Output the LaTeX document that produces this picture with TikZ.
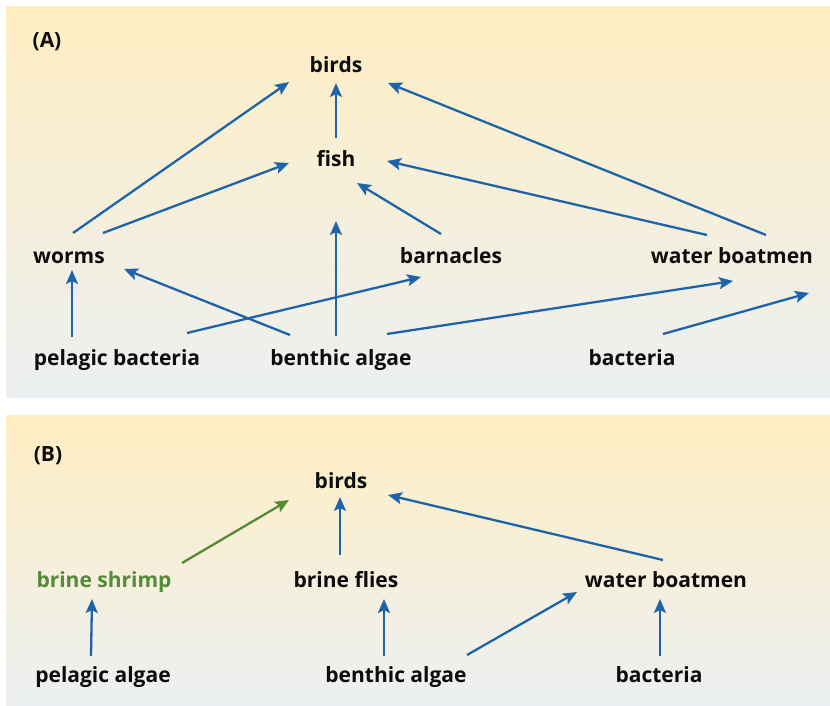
\documentclass[tikz,border=0pt]{standalone}
\usepackage{fontspec}
\setmainfont{Open Sans}
\usetikzlibrary{arrows.meta}
\definecolor{arrblue}{HTML}{1F64A8}
\definecolor{shrimpgreen}{HTML}{548A38}
\definecolor{paneltop}{HTML}{FFEEC2}
\definecolor{panelbot}{HTML}{ECF0F2}
\begin{document}
\begin{tikzpicture}[x=1pt,y=-1pt,
  lbl/.style={font=\fontsize{21}{24}\selectfont\bfseries, inner sep=0pt, text=black!95, anchor=base},
  arr/.style={draw=arrblue, line width=2.3pt, -{Stealth[length=14pt,width=12pt,inset=3pt]}},
  garr/.style={draw=shrimpgreen, line width=2.3pt, -{Stealth[length=14pt,width=12pt,inset=3pt]}}]
\useasboundingbox (0,0) rectangle (830,706);
\shade[top color=paneltop, bottom color=panelbot] (6,7) rectangle (830,397);
\shade[top color=paneltop, bottom color=panelbot] (6,415) rectangle (830,706);

% Panel A
\node[lbl] (labA) at (47,48) {(A)};
\node[lbl] (birdsA) at (336,73) {birds};
\node[lbl] (fishA) at (336,167) {fish};
\node[lbl] (wormsA) at (69,263) {worms};
\node[lbl] (barnA) at (451,263) {barnacles};
\node[lbl] (wbA) at (732,263) {water boatmen};
\node[lbl] (pbA) at (117,365) {pelagic bacteria};
\node[lbl] (baA) at (341,365) {benthic algae};
\node[lbl] (bacA) at (632,365) {bacteria};

\coordinate (a1s) at (73,233);  \coordinate (a1e) at (289,82);
\coordinate (a2s) at (103,233); \coordinate (a2e) at (289,163);
\coordinate (a3s) at (336,138); \coordinate (a3e) at (336,83);
\coordinate (a4s) at (441,234); \coordinate (a4e) at (357,183);
\coordinate (a5s) at (707,235); \coordinate (a5e) at (387,161);
\coordinate (a6s) at (766,235); \coordinate (a6e) at (388,83);
\coordinate (a7s) at (336,336); \coordinate (a7e) at (336,221);
\coordinate (a8s) at (72,337);  \coordinate (a8e) at (72,270);
\coordinate (a9s) at (290,335); \coordinate (a9e) at (124,269);
\coordinate (a10s) at (187,333); \coordinate (a10e) at (421,277);
\coordinate (a11s) at (387,334); \coordinate (a11e) at (733,281);
\coordinate (a12s) at (663,334); \coordinate (a12e) at (809,293);
\foreach \i in {1,...,12} {\draw[arr] (a\i s) -- (a\i e);}

% Panel B
\node[lbl] (labB) at (48,461) {(B)};
\node[lbl] (birdsB) at (341,488) {birds};
\node[lbl, text=shrimpgreen] (bsB) at (104,587) {brine shrimp};
\node[lbl] (bfB) at (346,587) {brine flies};
\node[lbl] (wbB) at (666,587) {water boatmen};
\node[lbl] (paB) at (103,682) {pelagic algae};
\node[lbl] (baB) at (396,682) {benthic algae};
\node[lbl] (bacB) at (659,682) {bacteria};

\coordinate (b1s) at (182,563); \coordinate (b1e) at (289,500);
\coordinate (b2s) at (340,555); \coordinate (b2e) at (340,497);
\coordinate (b3s) at (663,560); \coordinate (b3e) at (388,495);
\coordinate (b4s) at (91,656);  \coordinate (b4e) at (92,599);
\coordinate (b5s) at (384,656); \coordinate (b5e) at (384,599);
\coordinate (b6s) at (467,655); \coordinate (b6e) at (577,592);
\coordinate (b7s) at (660,656); \coordinate (b7e) at (660,599);
\draw[garr] (b1s) -- (b1e);
\foreach \i in {2,...,7} {\draw[arr] (b\i s) -- (b\i e);}
\end{tikzpicture}
\end{document}
